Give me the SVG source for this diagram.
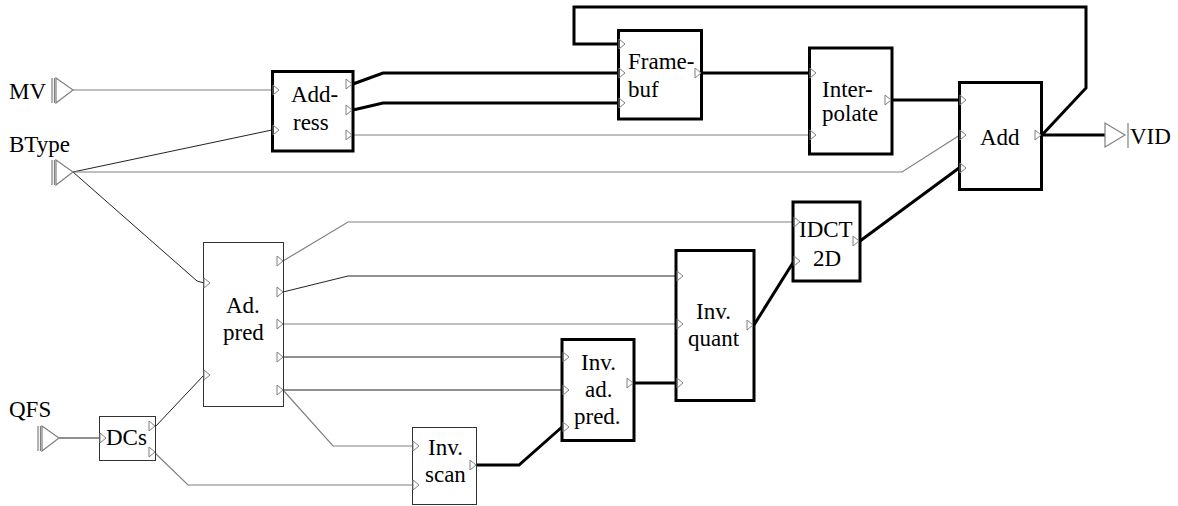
<svg xmlns="http://www.w3.org/2000/svg" xmlns:xlink="http://www.w3.org/1999/xlink" width="1178" height="506" viewBox="0 0 1178 506">
<style>
text{font-family:'Liberation Serif','Times New Roman',serif;font-size:23px;fill:#000}
.thick{fill:#fff;stroke:#000;stroke-width:3}
.thin{fill:#fff;stroke:#333;stroke-width:1}
.port{fill:none;stroke:#808080;stroke-width:1}
.ext{fill:#fff;stroke:#808080;stroke-width:1.2}
.g{fill:none;stroke:#808080;stroke-width:1.2}
.k{fill:none;stroke:#222;stroke-width:1}
.w{fill:none;stroke:#000;stroke-width:3;stroke-linejoin:miter}
</style>
<defs>
<path id="pin" d="M0,-5 L6,0 L0,5 Z"/>
<path id="pout" d="M-6,-5 L0,0 L-6,5 Z"/>
</defs>
<rect width="1178" height="506" fill="#fff"/>
<g id="connectors">
<polyline class="g" points="73,90 272,90"/>
<polyline class="k" points="73,172 272,130"/>
<polyline class="g" points="73,172 902,172 960,135"/>
<polyline class="k" points="73,172 197,281 204,283"/>
<polyline class="g" points="352,135 810,135"/>
<polyline class="g" points="283,261 348,222 794,222"/>
<polyline class="k" points="283,292 348,276 677,276"/>
<polyline class="g" points="283,324 677,324"/>
<polyline class="k" points="283,357 562,357"/>
<polyline class="k" points="283,390 562,390"/>
<polyline class="g" points="283,390 333,446 413,446"/>
<polyline class="k" points="59,438 100,438"/>
<polyline class="k" points="155,427 204,375"/>
<polyline class="g" points="155,453 188,485 413,485"/>
<polyline class="w" points="353,84 383,73 618,73"/>
<polyline class="w" points="353,110 383,103 618,103"/>
<polyline class="w" points="702,73 810,73"/>
<polyline class="w" points="892,100 960,100"/>
<polyline class="w" points="1042,135 1105,135"/>
<polyline class="w" points="1042,135 1086,88 1086,7 574,7 574,44 618,44"/>
<polyline class="w" points="860,241 959,168"/>
<polyline class="w" points="754,325 794,261"/>
<polyline class="w" points="634,383 677,383"/>
<polyline class="w" points="476,465 519,465 562,427"/>
</g>
<g id="MV">
<text x="9" y="99">MV</text>
<path class="g" d="M52,78 V103 M54.5,78 V103"/>
<path class="ext" d="M56,78 L73,90 L56,103 Z"/>
</g>
<g id="BType">
<text x="9" y="152">BType</text>
<path class="g" d="M52,160 V185 M54.5,160 V185"/>
<path class="ext" d="M56,160 L73,172 L56,185 Z"/>
</g>
<g id="QFS">
<text x="9" y="417">QFS</text>
<path class="g" d="M38,426 V451 M40.5,426 V451"/>
<path class="ext" d="M42,426 L59,438 L42,451 Z"/>
</g>
<g id="VID">
<path class="ext" d="M1105,123 L1125,135 L1105,147 Z"/>
<path class="g" d="M1128,123 V148"/>
<text x="1130" y="144">VID</text>
</g>
<g id="Address">
<rect class="thick" x="272.5" y="71.5" width="80.5" height="79.5"/>
<use href="#pin" class="port" x="273" y="90"/>
<use href="#pin" class="port" x="273" y="130"/>
<use href="#pout" class="port" x="352" y="84"/>
<use href="#pout" class="port" x="352" y="110"/>
<use href="#pout" class="port" x="352" y="135"/>
<text x="291" y="102">Add-</text>
<text x="293" y="130">ress</text>
</g>
<g id="Framebuf">
<rect class="thick" x="618.5" y="30.5" width="83" height="88.5"/>
<use href="#pin" class="port" x="619" y="44"/>
<use href="#pin" class="port" x="619" y="73"/>
<use href="#pin" class="port" x="619" y="103"/>
<use href="#pout" class="port" x="701" y="73"/>
<text x="628" y="69">Frame-</text>
<text x="628" y="97">buf</text>
</g>
<g id="Interpolate">
<rect class="thick" x="809.5" y="48" width="82.5" height="106"/>
<use href="#pin" class="port" x="810" y="73"/>
<use href="#pin" class="port" x="810" y="135"/>
<use href="#pout" class="port" x="891" y="100"/>
<text x="822" y="97">Inter-</text>
<text x="822" y="121">polate</text>
</g>
<g id="Add">
<rect class="thick" x="959.5" y="82.5" width="82" height="107"/>
<use href="#pin" class="port" x="960" y="100"/>
<use href="#pin" class="port" x="960" y="135"/>
<use href="#pin" class="port" x="960" y="168"/>
<use href="#pout" class="port" x="1041" y="135"/>
<text x="980" y="145">Add</text>
</g>
<g id="IDCT2D">
<rect class="thick" x="793" y="202" width="67" height="79"/>
<use href="#pin" class="port" x="794" y="222"/>
<use href="#pin" class="port" x="794" y="261"/>
<use href="#pout" class="port" x="859" y="241"/>
<text x="799" y="237">IDCT</text>
<text x="813" y="266">2D</text>
</g>
<g id="Invquant">
<rect class="thick" x="676" y="250.5" width="78" height="150"/>
<use href="#pin" class="port" x="677" y="276"/>
<use href="#pin" class="port" x="677" y="324"/>
<use href="#pin" class="port" x="677" y="383"/>
<use href="#pout" class="port" x="753" y="325"/>
<text x="696" y="319">Inv.</text>
<text x="688" y="346">quant</text>
</g>
<g id="Invadpred">
<rect class="thick" x="562" y="339.5" width="72" height="101"/>
<use href="#pin" class="port" x="563" y="357"/>
<use href="#pin" class="port" x="563" y="390"/>
<use href="#pin" class="port" x="563" y="427"/>
<use href="#pout" class="port" x="633" y="383"/>
<text x="581" y="370">Inv.</text>
<text x="585" y="397">ad.</text>
<text x="574" y="424">pred.</text>
</g>
<g id="Adpred">
<rect class="thin" x="203.5" y="242.5" width="80" height="164"/>
<use href="#pin" class="port" x="204" y="283"/>
<use href="#pin" class="port" x="204" y="375"/>
<use href="#pout" class="port" x="283" y="261"/>
<use href="#pout" class="port" x="283" y="292"/>
<use href="#pout" class="port" x="283" y="324"/>
<use href="#pout" class="port" x="283" y="357"/>
<use href="#pout" class="port" x="283" y="390"/>
<text x="226" y="313">Ad.</text>
<text x="223" y="340">pred</text>
</g>
<g id="DCs">
<rect class="thin" x="99.5" y="416.5" width="56" height="44"/>
<use href="#pin" class="port" x="100" y="438"/>
<use href="#pout" class="port" x="155" y="426"/>
<use href="#pout" class="port" x="155" y="452"/>
<text x="106" y="445">DCs</text>
</g>
<g id="Invscan">
<rect class="thin" x="412.5" y="427.5" width="64" height="77"/>
<use href="#pin" class="port" x="413" y="446"/>
<use href="#pin" class="port" x="413" y="485"/>
<use href="#pout" class="port" x="476" y="465"/>
<text x="428" y="455">Inv.</text>
<text x="425" y="482">scan</text>
</g>
</svg>
